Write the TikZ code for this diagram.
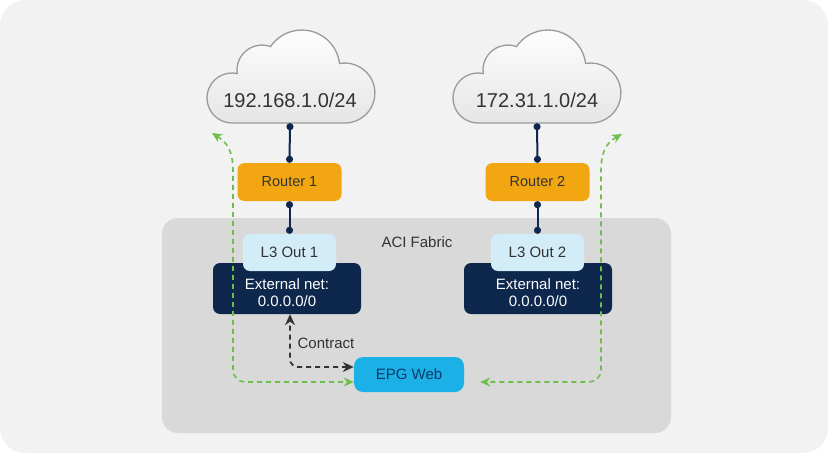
\documentclass[tikz,border=0pt]{standalone}
\usepackage{fontspec}
\setmainfont{Liberation Sans}
\usetikzlibrary{arrows.meta,calc}
\definecolor{bgc}{HTML}{F2F2F2}
\definecolor{fabricc}{HTML}{D9D9D9}
\definecolor{orangec}{HTML}{F2A712}
\definecolor{navyc}{HTML}{0D274D}
\definecolor{lightbluec}{HTML}{D2ECF8}
\definecolor{epgc}{HTML}{1BB1E6}
\definecolor{epgtextc}{HTML}{0B3A6A}
\definecolor{greenc}{HTML}{6CBF4A}
\definecolor{txtc}{HTML}{333333}
\definecolor{cloudedge}{HTML}{9A9A9A}
\tikzset{
  lbl/.style={font=\fontsize{15}{17}\selectfont, text=txtc},
  cloudtext/.style={font=\fontsize{20}{22}\selectfont, text=txtc, minimum width=160pt, minimum height=46pt, inner sep=0pt},
  routerbox/.style={fill=orangec, rounded corners=7pt, minimum width=104pt, minimum height=38pt, inner sep=0pt, font=\fontsize{14.5}{17}\selectfont, text=txtc},
  l3box/.style={fill=lightbluec, rounded corners=7pt, minimum width=93pt, minimum height=37pt, inner sep=0pt, font=\fontsize{15}{17}\selectfont, text=txtc},
  extbox/.style={fill=navyc, rounded corners=7pt, minimum width=148pt, minimum height=51pt, inner sep=0pt},
  exttext/.style={align=center, inner sep=0pt, font=\fontsize{15}{17}\selectfont, text=white},
  epgbox/.style={fill=epgc, rounded corners=9pt, minimum width=110pt, minimum height=35pt, inner sep=0pt, font=\fontsize{15}{17}\selectfont, text=epgtextc},
  navyline/.style={draw=navyc, line width=2pt, {Circle[length=7pt]}-{Circle[length=7pt]}},
  gdash/.style={draw=greenc, line width=1.6pt, dash pattern=on 5pt off 4pt, {Stealth[length=10pt,width=9pt]}-{Stealth[length=10pt,width=9pt]}},
  kdash/.style={draw=txtc, line width=1.8pt, dash pattern=on 5pt off 4pt, {Stealth[length=11pt,width=10pt]}-{Stealth[length=11pt,width=10pt]}},
  cloudshape/.style={draw=cloudedge, line width=1.3pt, top color=white, bottom color=black!10},
}
\begin{document}
\begin{tikzpicture}[x=1pt,y=-1pt]
\useasboundingbox (0,0) rectangle (828,453);
\fill[white] (0,0) rectangle (828,453);
\fill[bgc, rounded corners=25pt] (0,0) rectangle (828,453);
% fabric
\fill[fabricc, rounded corners=16pt] (162,218) rectangle (671,433);
% clouds
\foreach \dx in {0,246}{
  \path[cloudshape, xshift=\dx pt] (232,123) arc[start angle=-270, end angle=-78, radius=25]
    arc[start angle=-188, end angle=-70, radius=25]
    arc[start angle=-145.6, end angle=-6.8, radius=38]
    arc[start angle=-100.2, end angle=90, radius=30] -- cycle;
}
\node[cloudtext] (c1) at (290,100) {192.168.1.0/24};
\node[cloudtext] (c2) at (537,100) {172.31.1.0/24};
% routers
\node[routerbox] (r1) at (289.5,182) {Router 1};
\node[routerbox] (r2) at (537.5,182) {Router 2};
% external nets and L3 outs
\node[extbox] (e1) at (287,288.5) {};
\node[extbox] (e2) at (538,288.5) {};
\node[exttext] (e1t) at (287,293) {External net:\\0.0.0.0/0};
\node[exttext] (e2t) at (538,293) {External net:\\0.0.0.0/0};
\node[l3box] (l1) at (289.5,252.5) {L3 Out 1};
\node[l3box] (l2) at (537.5,252.5) {L3 Out 2};
\node[lbl] (fab) at (417,242) {ACI Fabric};
\node[epgbox] (epg) at (409,374.5) {EPG Web};
\node[lbl] (con) at (326,343) {Contract};
% navy connectors
\draw[navyline] (c1.south) -- (r1.north);
\draw[navyline] (r1.south) -- (l1.north);
\draw[navyline] (c2.south) -- (r2.north);
\draw[navyline] (r2.south) -- (l2.north);
% green paths
\coordinate (gtl) at (212,133);
\coordinate (gtr) at (622,134);
\draw[gdash] (gtl) .. controls (228,143) and (233,152) .. (233,172)
  [rounded corners=12pt] -- (233,382) -- ($(epg.west)+(0,7.5)$);
\draw[gdash] (gtr) .. controls (606,143) and (601,152) .. (601,172)
  [rounded corners=12pt] -- (601,382) -- ($(epg.east)+(16,7.5)$);
% contract
\draw[kdash, rounded corners=8pt] ($(epg.west)+(0,-7.5)$) -- (290,367) -- ($(e1.south)+(3,0)$);
\end{tikzpicture}
\end{document}
